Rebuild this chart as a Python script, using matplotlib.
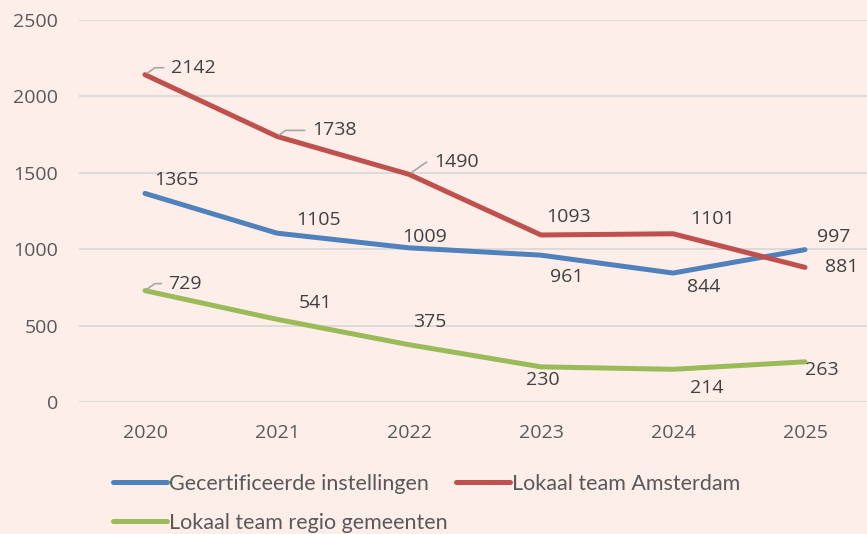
import matplotlib.pyplot as plt
import numpy as np

years = ['2020', '2021', '2022', '2023', '2024', '2025']
gecertificeerd = [1365, 1105, 1009, 961, 844, 997]
amsterdam = [2142, 1738, 1490, 1093, 1101, 881]
regio = [729, 541, 375, 230, 214, 263]

bg = '#FDEEEA'
blue = '#4F81BD'
red = '#C0504D'
green = '#9BBB59'

fig = plt.figure(figsize=(8.67, 5.34), dpi=100, facecolor=bg)
W, H = 867, 534
ax = fig.add_axes([79 / W, 132 / H, (W - 79) / W, 382 / H], facecolor=bg)

x = np.arange(len(years))
l1, = ax.plot(x, gecertificeerd, color=blue, lw=3.6, solid_capstyle='round', zorder=3)
l2, = ax.plot(x, amsterdam, color=red, lw=3.6, solid_capstyle='round', zorder=3)
l3, = ax.plot(x, regio, color=green, lw=3.6, solid_capstyle='round', zorder=3)

ax.set_xlim(-0.5, -0.5 + (W - 79) / 132)
ax.set_ylim(0, 2500)
ax.set_yticks(range(0, 2501, 500))
ax.set_xticks(x)
ax.set_xticklabels(years)
ax.grid(axis='y', color='#D9D9D9', lw=1.3)
ax.set_axisbelow(True)
for s in ax.spines.values():
    s.set_visible(False)
ax.tick_params(length=0, labelsize=14, labelcolor='#595959', pad=15)
ax.tick_params(axis='x', pad=15.5)
for t in ax.get_xticklabels() + ax.get_yticklabels():
    t.set_fontfamily('Open Sans')

# label offsets in pixels (dx, dy)
offs = {
    'b': [(31, 13), (41, 13), (16, 11), (26, -22), (31, -14), (29, 13)],
    'r': [(48, 7), (57, 6), (47, 12), (28, 18), (40, 15), (37, 0)],
    'g': [(40, 7), (38, 16), (21, 23), (2, -13), (34, -19), (17, -8)],
}
leaders = {('r', 0), ('r', 1), ('r', 2), ('g', 0)}

for key, vals in [('b', gecertificeerd), ('r', amsterdam), ('g', regio)]:
    for i, v in enumerate(vals):
        dx, dy = offs[key][i]
        ap = None
        if (key, i) in leaders:
            ap = dict(arrowstyle='-', color='#A6A6A6', lw=1.2,
                      connectionstyle='angle,angleA=0,angleB=35,rad=0',
                      relpos=(0, 0.5), shrinkA=3, shrinkB=2)
        ax.annotate(str(v), (i, v), xytext=(dx, dy), textcoords='offset pixels',
                    ha='center', va='center', fontsize=14, color='#404040',
                    fontfamily='Open Sans', arrowprops=ap, zorder=4)

leg = fig.legend([l1, l3, l2],
                 ['Gecertificeerde instellingen', 'Lokaal team regio gemeenten',
                  'Lokaal team Amsterdam'],
                 ncol=2, loc='upper left', bbox_to_anchor=(113 / W, 1 - 474 / H),
                 frameon=False, prop={'family': 'Lato', 'size': 15.5},
                 borderpad=0, borderaxespad=0,
                 handlelength=2.5, handletextpad=0.1, columnspacing=0.4,
                 labelspacing=0.88, labelcolor='#595959')

fig.savefig('out.png', dpi=100, facecolor=bg)
